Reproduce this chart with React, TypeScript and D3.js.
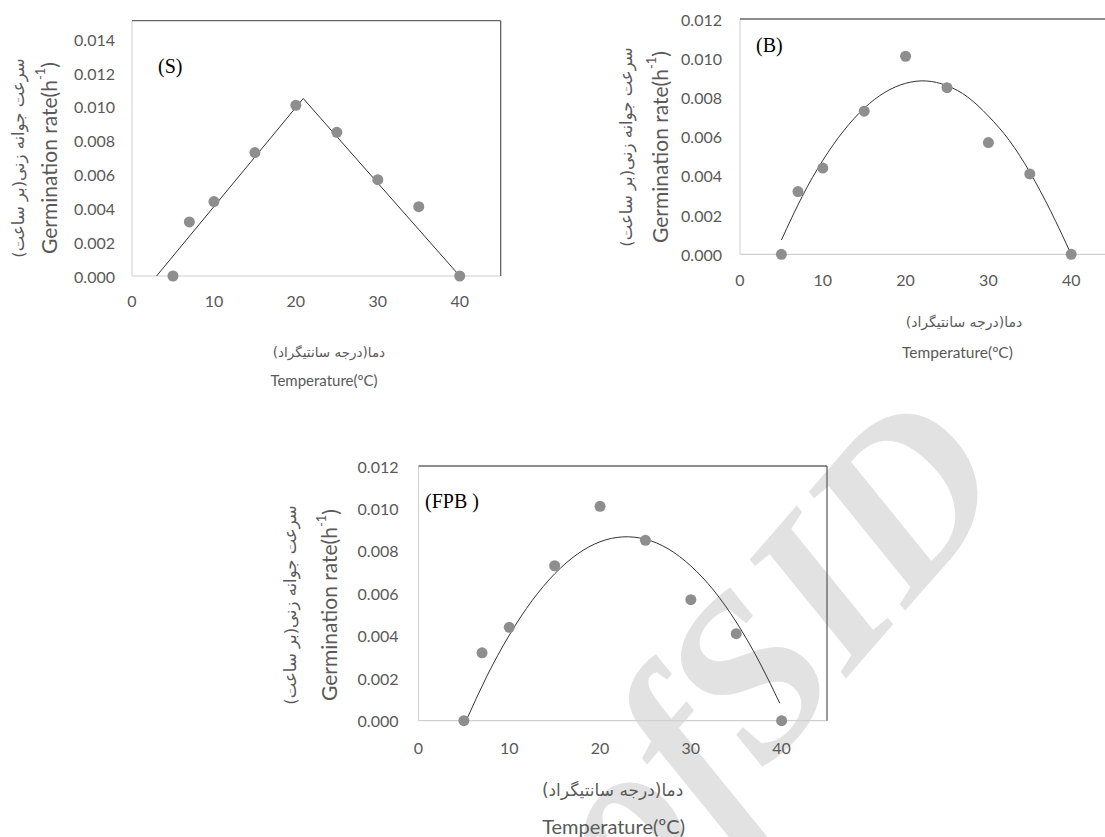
import React from "react";
import * as d3 from "d3";

// observed data (same in all three panels)
const temps = [5, 7, 10, 15, 20, 25, 30, 35, 40];
const rates = [0.0, 0.0032, 0.0044, 0.0073, 0.0101, 0.0085, 0.0057, 0.0041, 0.0];

// segmented model, panel S
const segX = [3, 20.9, 40];
const segY = [0, 0.0105, 0];

// fitted curve, panel B
const bCurveX = [5, 7.5, 10, 12.5, 15, 17.5, 20, 22.5, 25, 27.5, 30, 32.5, 35, 37.5, 40];
const bCurveY = [0.00073, 0.00294, 0.00479, 0.00629, 0.00745, 0.00826, 0.00872, 0.00884, 0.0086, 0.00802, 0.00705, 0.00582, 0.00419, 0.00222, 0.0];

// fitted curve, panel FPB
const fCurveX = [5.25, 7.5, 10, 12.5, 15, 17.5, 20, 22.5, 25, 27.5, 30, 32.5, 35, 37.5, 39.8];
const fCurveY = [0.0, 0.00207, 0.00403, 0.00565, 0.00692, 0.00785, 0.00843, 0.00866, 0.00855, 0.0081, 0.00729, 0.00615, 0.00465, 0.00281, 0.00082];

const xTicks = [0, 10, 20, 30, 40];
const yTicksS = [0, 0.002, 0.004, 0.006, 0.008, 0.01, 0.012, 0.014];
const yTicksB = [0, 0.002, 0.004, 0.006, 0.008, 0.01, 0.012];

const yTitleFa = "سرعت جوانه زنی(بر ساعت)";
const xTitleFa = "دما(درجه سانتیگراد)";

const W = 1105;
const H = 837;
const TXT = "#595959";
const DOT = "#8e8e8e";
const LATIN = "Lato, 'Open Sans', sans-serif";
const ARABIC = "'DejaVu Sans', sans-serif";

interface PanelCfg {
  label: string;
  left: number; right: number; xMax: number;
  yTopPx: number; yBotPx: number; yMax: number; frameTop: number;
  yTicks: number[];
  curveX: number[]; curveY: number[]; curveType: d3.CurveFactory;
  labelPos: [number, number];
  tickGap: number; xTickGap: number;
  xTitle: { fa: [number, number]; en: [number, number]; faSize: number; enSize: number };
  yTitle: { fa: number; en: number; cy: number };
}

const panels: PanelCfg[] = [
  {
    label: "(S)", left: 132, right: 500.7, xMax: 45,
    yTopPx: 39.3, yBotPx: 276, yMax: 0.014, frameTop: 20.7,
    yTicks: yTicksS, curveX: segX, curveY: segY, curveType: d3.curveLinear,
    labelPos: [158, 65.5], tickGap: 17, xTickGap: 24,
    xTitle: { fa: [329, 351.7], en: [324, 380], faSize: 13.5, enSize: 15 },
    yTitle: { fa: 18, en: 48, cy: 158 },
  },
  {
    label: "(B)", left: 740, right: 1112.6, xMax: 45,
    yTopPx: 19, yBotPx: 254.3, yMax: 0.012, frameTop: 19,
    yTicks: yTicksB, curveX: bCurveX, curveY: bCurveY, curveType: d3.curveNatural,
    labelPos: [756, 45], tickGap: 18, xTickGap: 25,
    xTitle: { fa: [964, 321.7], en: [957.5, 351.7], faSize: 14, enSize: 15.5 },
    yTitle: { fa: 626, en: 659, cy: 147 },
  },
  {
    label: "(FPB )", left: 418.5, right: 827, xMax: 45,
    yTopPx: 466, yBotPx: 720.7, yMax: 0.012, frameTop: 466,
    yTicks: yTicksB, curveX: fCurveX, curveY: fCurveY, curveType: d3.curveNatural,
    labelPos: [425, 500.7], tickGap: 20, xTickGap: 27,
    xTitle: { fa: [612.6, 790], en: [613.6, 825.7], faSize: 17, enSize: 20 },
    yTitle: { fa: 290, en: 328.5, cy: 605 },
  },
];

function Panel({ p }: { p: PanelCfg }) {
  const x = d3.scaleLinear().domain([0, p.xMax]).range([p.left, p.right]);
  const y = d3.scaleLinear().domain([0, p.yMax]).range([p.yBotPx, p.yTopPx]);
  const pts = p.curveX.map((v, i) => [v, p.curveY[i]] as [number, number]);
  const line = d3.line<[number, number]>().x((d) => x(d[0])).y((d) => y(d[1])).curve(p.curveType);
  const fmt = d3.format(".3f");
  const b = p.yBotPx;
  return (
    <g>
      {/* frame */}
      <line x1={p.left} x2={p.left} y1={p.frameTop} y2={b} stroke="#d0d0d0" strokeWidth={1} />
      <line x1={p.left} x2={p.right} y1={b} y2={b} stroke="#d0d0d0" strokeWidth={1.2} />
      <line x1={p.left} x2={p.right} y1={p.frameTop} y2={p.frameTop} stroke="#666" strokeWidth={1.3} />
      <line x1={p.right} x2={p.right} y1={p.frameTop} y2={b} stroke="#555" strokeWidth={1.2} />

      {p.yTicks.map((t) => (
        <text key={t} x={p.left - p.tickGap} y={y(t)} textAnchor="end" dominantBaseline="central"
          fontFamily={LATIN} fontSize={16} fill={TXT}>{fmt(t)}</text>
      ))}
      {xTicks.map((t) => (
        <text key={t} x={x(t)} y={b + p.xTickGap} textAnchor="middle" dominantBaseline="central"
          fontFamily={LATIN} fontSize={16} fill={TXT}>{t}</text>
      ))}

      <path d={line(pts) ?? ""} fill="none" stroke="#333" strokeWidth={1} />
      {temps.map((t, i) => (
        <circle key={t} cx={x(t)} cy={y(rates[i])} r={5.5} fill={DOT} />
      ))}

      <text x={p.labelPos[0]} y={p.labelPos[1]} dominantBaseline="central"
        fontFamily="'Liberation Serif', 'Times New Roman', serif" fontSize={20} fill="#000">{p.label}</text>

      {/* axis titles */}
      <text x={p.xTitle.fa[0]} y={p.xTitle.fa[1]} textAnchor="middle" dominantBaseline="central"
        fontFamily={ARABIC} fontSize={p.xTitle.faSize} fill={TXT} direction="rtl">{xTitleFa}</text>
      <text x={p.xTitle.en[0]} y={p.xTitle.en[1]} textAnchor="middle" dominantBaseline="central"
        fontFamily={LATIN} fontSize={p.xTitle.enSize} fill={TXT}>Temperature(ºC)</text>

      <text transform={`translate(${p.yTitle.fa},${p.yTitle.cy}) rotate(-90)`} textAnchor="middle"
        dominantBaseline="central" fontFamily={ARABIC} fontSize={16.5} fill={TXT} direction="rtl">{yTitleFa}</text>
      <text transform={`translate(${p.yTitle.en},${p.yTitle.cy}) rotate(-90)`} textAnchor="middle"
        dominantBaseline="central" fontFamily={LATIN} fontSize={21} fill={TXT}>
        Germination rate(h<tspan dy={-8} fontSize={13}>-1</tspan><tspan dy={8}>)</tspan>
      </text>
    </g>
  );
}

export default function App() {
  return (
    <svg width={W} height={H} style={{ position: "absolute", left: 0, top: 0, background: "#fff" }}>
      <rect width={W} height={H} fill="#fff" />
      <text transform="translate(638,918) rotate(-49)" fontFamily="'Liberation Serif', serif"
        fontStyle="italic" fontWeight="bold" fontSize={230} fill="#e2e2e2">ofSID</text>
      {panels.map((p) => <Panel key={p.label} p={p} />)}
    </svg>
  );
}
